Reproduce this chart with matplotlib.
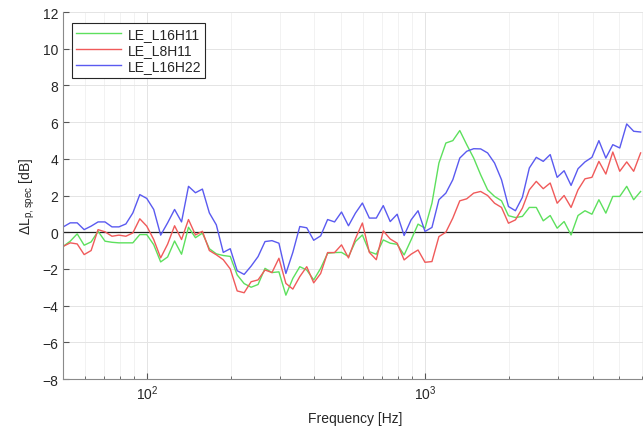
import numpy as np
import matplotlib
matplotlib.use("Agg")
import matplotlib.pyplot as plt
from matplotlib.ticker import FixedLocator, NullFormatter

plt.rcParams['font.family'] = ['Liberation Sans', 'DejaVu Sans']
plt.rcParams['mathtext.default'] = 'regular'

# 1/12-octave band indices relative to 1 kHz (base-10 series)
band_index = list(range(-52, 32))
freq = [1000 * 10 ** (n / 40) for n in band_index]

le_l16h11 = [
    -0.77, -0.49, -0.09, -0.71, -0.53, 0.05, -0.49, -0.55, -0.58, -0.58,
    -0.58, -0.13, -0.13, -0.68, -1.62, -1.35, -0.48, -1.2, 0.27, -0.3,
    -0.05, -0.9, -1.18, -1.27, -1.32, -2.33, -2.8, -3.0, -2.85, -1.97,
    -2.2, -2.16, -3.43, -2.52, -1.88, -2.06, -2.6, -1.97, -1.15, -1.11,
    -1.1, -1.33, -0.51, -0.15, -1.06, -1.2, -0.42, -0.6, -0.66, -1.24,
    -0.42, 0.44, 0.22, 1.58, 3.77, 4.86, 4.99, 5.54, 4.77, 4.04,
    3.13, 2.31, 1.95, 1.71, 0.9, 0.8, 0.86, 1.35, 1.35, 0.62,
    0.91, 0.22, 0.58, -0.15, 0.91, 1.17, 0.98, 1.77, 1.04, 1.95,
    1.95, 2.5, 1.77, 2.22]

le_l8h11 = [
    -0.77, -0.58, -0.64, -1.22, -1.0, 0.14, 0.02, -0.22, -0.16, -0.22,
    -0.04, 0.73, 0.33, -0.4, -1.4, -0.65, 0.35, -0.4, 0.69, -0.15,
    0.05, -1.0, -1.23, -1.5, -2.0, -3.2, -3.3, -2.7, -2.6, -2.06,
    -2.2, -1.42, -2.79, -3.1, -2.42, -1.88, -2.76, -2.25, -1.11, -1.11,
    -0.69, -1.4, -0.35, 0.5, -1.1, -1.5, 0.07, -0.37, -0.6, -1.51,
    -1.2, -0.97, -1.64, -1.6, -0.24, 0.0, 0.77, 1.71, 1.82, 2.13,
    2.22, 2.0, 1.58, 1.35, 0.49, 0.67, 1.31, 2.31, 2.77, 2.37,
    2.68, 1.58, 2.0, 1.35, 2.31, 2.91, 2.99, 3.86, 3.17, 4.37,
    3.32, 3.83, 3.32, 4.32]

le_l16h22 = [
    0.29, 0.51, 0.51, 0.14, 0.33, 0.56, 0.56, 0.29, 0.29, 0.45,
    1.05, 2.05, 1.84, 1.24, -0.16, 0.51, 1.24, 0.56, 2.5, 2.15,
    2.35, 1.05, 0.4, -1.1, -0.9, -2.1, -2.3, -1.85, -1.33, -0.51,
    -0.46, -0.6, -2.25, -1.1, 0.31, 0.24, -0.44, -0.2, 0.69, 0.56,
    1.1, 0.35, 1.04, 1.59, 0.77, 0.77, 1.45, 0.58, 0.98, -0.18,
    0.67, 1.17, 0.04, 0.26, 1.77, 2.13, 2.86, 4.04, 4.41, 4.55,
    4.54, 4.32, 3.77, 2.86, 1.4, 1.17, 1.9, 3.5, 4.08, 3.86,
    4.23, 2.99, 3.35, 2.55, 3.46, 3.83, 4.08, 4.99, 4.04, 4.77,
    4.59, 5.9, 5.5, 5.46]

series_names = ['LE_L16H11', 'LE_L8H11', 'LE_L16H22']
series_colors = ['#5de05d', '#f05a5a', '#5a5af0']
yticks = list(range(-8, 13, 2))

W, H = 643, 435
fig = plt.figure(figsize=(W / 100, H / 100), dpi=100)
ax = fig.add_axes([63 / W, 1 - 380 / H, (647.4 - 63) / W, (380 - 13) / H])

axis_col = '#262626'
for name, data, col in zip(series_names, [le_l16h11, le_l8h11, le_l16h22], series_colors):
    ax.plot(freq, data, color=col, lw=1.0, label=name)
ax.axhline(0, color='#202020', lw=0.9, zorder=1)

ax.set_xscale('log')
ax.set_xlim(50, 6300)
ax.set_ylim(-8, 12)
ax.set_yticks(yticks)
ax.xaxis.set_major_locator(FixedLocator([100, 1000]))
ax.set_xticklabels([r'$10^2$', r'$10^3$'])
minor = [m * d for d in (10, 100, 1000) for m in range(2, 10) if 50 <= m * d <= 6300]
ax.xaxis.set_minor_locator(FixedLocator(minor))
ax.xaxis.set_minor_formatter(NullFormatter())

ax.grid(True, which='major', color='#e4e4e4', lw=0.7)
ax.grid(True, which='minor', axis='x', color='#f0f0f0', lw=0.6)
ax.set_axisbelow(True)

ax.tick_params(which='both', direction='in', colors='#555555', labelcolor=axis_col,
               labelsize=10, top=False, right=False)
ax.tick_params(which='major', length=4)
ax.tick_params(which='minor', length=2.5)
for k in ('left', 'bottom'):
    ax.spines[k].set_color('#8a8a8a')
    ax.spines[k].set_linewidth(0.8)
ax.spines['top'].set_visible(False)
ax.spines['right'].set_visible(False)

ax.set_xlabel('Frequency [Hz]', fontsize=10, color=axis_col, labelpad=6)
ax.set_ylabel(r'$\Delta$L$_{p,spec}$ [dB]', fontsize=10, color=axis_col, labelpad=4)

leg = ax.legend(loc='upper left', bbox_to_anchor=(9 / 584, 1 - 11 / 367), fontsize=10,
                frameon=True, fancybox=False, edgecolor='#262626', framealpha=1,
                handlelength=3.2, borderpad=0.3, labelspacing=0.15, handletextpad=0.5,
                borderaxespad=0)
leg.get_frame().set_linewidth(0.8)
for t in leg.get_texts():
    t.set_color(axis_col)

fig.savefig('out.png', dpi=100)
